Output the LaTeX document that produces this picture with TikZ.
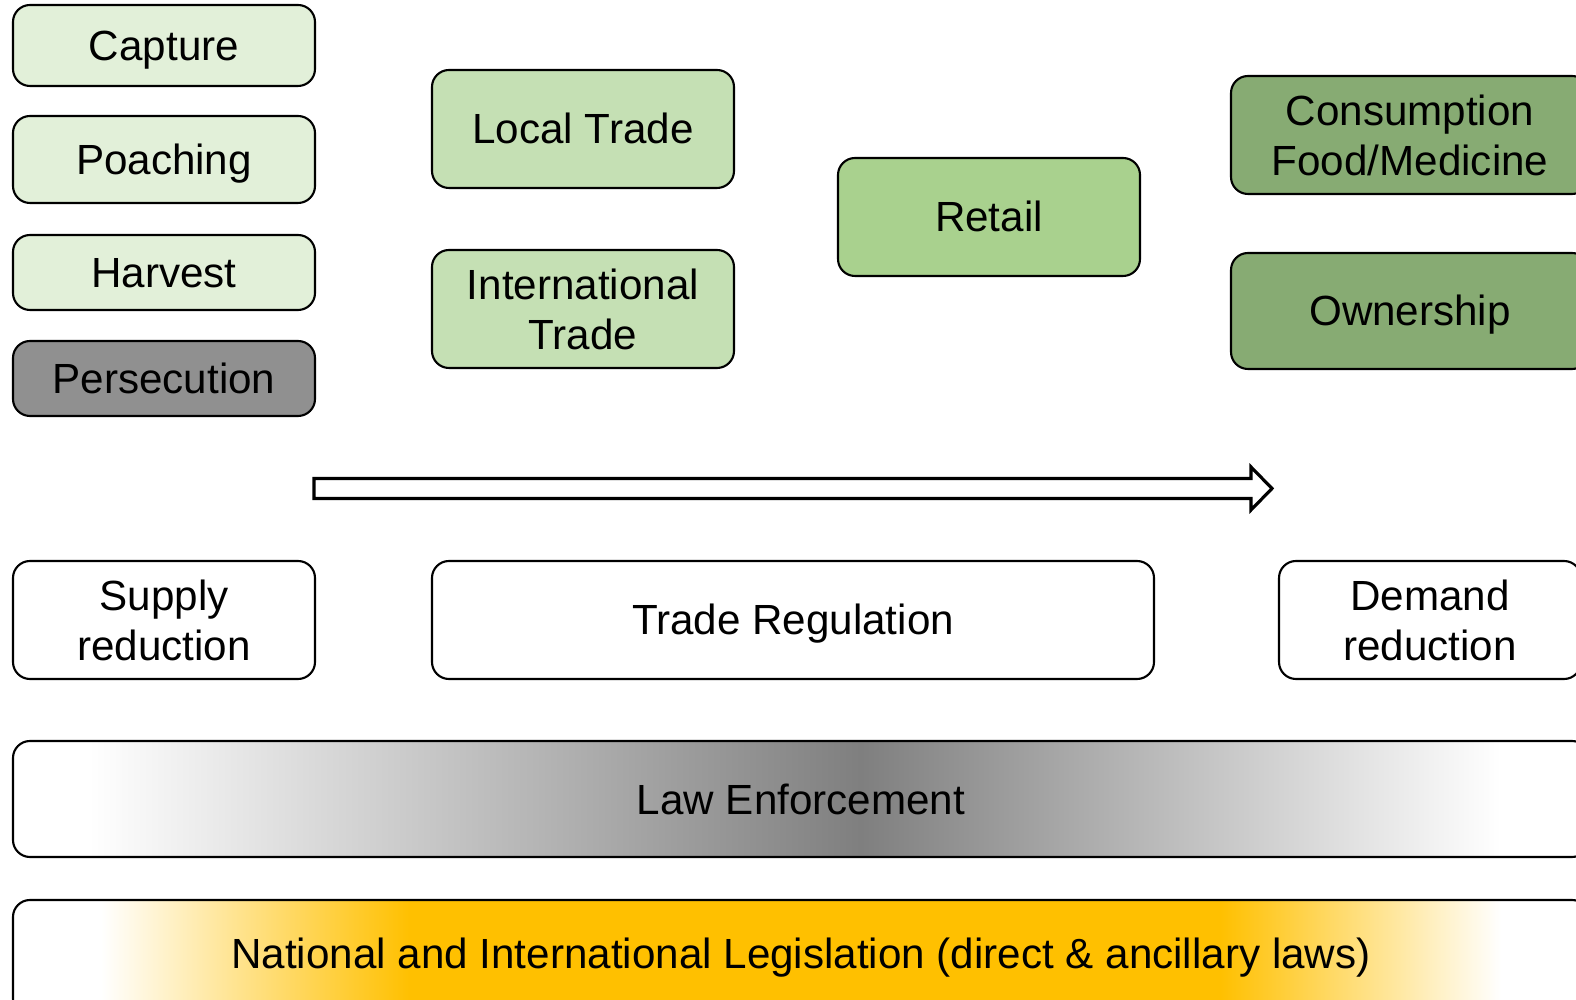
\documentclass[tikz,border=0pt]{standalone}
\usepackage{fontspec}
\setmainfont{Liberation Sans}
\usetikzlibrary{positioning, calc}

\definecolor{paleGreen}{HTML}{E2F0D9}
\definecolor{tradeGreen}{HTML}{C5E0B4}
\definecolor{retailGreen}{HTML}{A9D18E}
\definecolor{useGreen}{HTML}{87AB73}
\definecolor{persGray}{HTML}{909090}
\definecolor{lawGray}{HTML}{7F7F7F}
\definecolor{lawOrange}{HTML}{FFC000}

\pgfdeclarehorizontalshading{lawshade}{100bp}{color(0bp)=(white); color(27.4bp)=(white);
  color(51.9bp)=(lawGray); color(72.2bp)=(white); color(100bp)=(white)}
\pgfdeclarehorizontalshading{legishade}{100bp}{color(0bp)=(white); color(27.8bp)=(white);
  color(37.6bp)=(lawOrange); color(63.3bp)=(lawOrange); color(72.2bp)=(white); color(100bp)=(white)}

\begin{document}
\begin{tikzpicture}[every node/.style={font=\fontsize{12}{14.2}\selectfont}]
    % Styles
    \tikzstyle{box} = [rectangle, draw, line width=0.6pt, rounded corners=0.17cm,
                       minimum width=3.02cm, align=center, inner sep=0pt]
    \tikzstyle{oneline} = [text height=10.86pt, text depth=2.54pt]
    \tikzstyle{source} = [box, oneline, fill=paleGreen, minimum height=0.81cm]
    \tikzstyle{trade} = [box, fill=tradeGreen, minimum height=1.18cm]
    \tikzstyle{use} = [box, fill=useGreen, minimum height=1.18cm, minimum width=3.58cm]
    \tikzstyle{measure} = [box, fill=white, minimum height=1.18cm]
    \tikzstyle{band} = [box, shade, minimum width=15.76cm, minimum height=1.16cm]

    \clip (0,0) rectangle (15.76,-10);

    % Nodes
    \node at (1.64,-0.455) [source] (capture) {Capture};
    \node at (1.64,-1.595) [source, minimum height=0.87cm] (poaching) {Poaching};
    \node at (1.64,-2.725) [source, minimum height=0.75cm] (harvest) {Harvest};
    \node at (1.64,-3.785) [source, minimum height=0.75cm, fill=persGray] (persec) {Persecution};

    \node at (5.83,-1.29) [trade, oneline] (localtr) {Local Trade};
    \node at (5.83,-3.09) [trade] (intltr) {International\\Trade};
    \node at (9.89,-2.17) [trade, oneline, fill=retailGreen] (retail) {Retail};
    \node at (14.10,-1.35) [use] (consum) {Consumption\\Food/Medicine};
    \node at (14.10,-3.11) [use, oneline, minimum height=1.16cm] (owner) {Ownership};

    \node at (1.64,-6.20) [measure] (supply) {Supply\\reduction};
    \node at (7.93,-6.20) [measure, oneline, minimum width=7.22cm] (tradereg) {Trade Regulation};
    \node at (14.30,-6.20) [measure] (demand) {Demand\\reduction};

    \node at (8.01,-7.99) [band, shading=lawshade] (lawenf) {Law Enforcement};
    \node at (8.01,-9.58) [band, shading=legishade] (legis) {National and International Legislation (direct \& ancillary laws)};

    % Flow arrow
    \coordinate (flowstart) at (3.14,-4.885);
    \coordinate (flowend) at (12.72,-4.885);
    \draw[line width=0.9pt, fill=white, line join=miter] ($(flowstart)+(0,0.1)$) -- ($(flowend)+(-0.21,0.1)$)
        -- ($(flowend)+(-0.21,0.215)$) -- (flowend) -- ($(flowend)+(-0.21,-0.215)$)
        -- ($(flowend)+(-0.21,-0.1)$) -- ($(flowstart)+(0,-0.1)$) -- cycle;
\end{tikzpicture}
\end{document}
